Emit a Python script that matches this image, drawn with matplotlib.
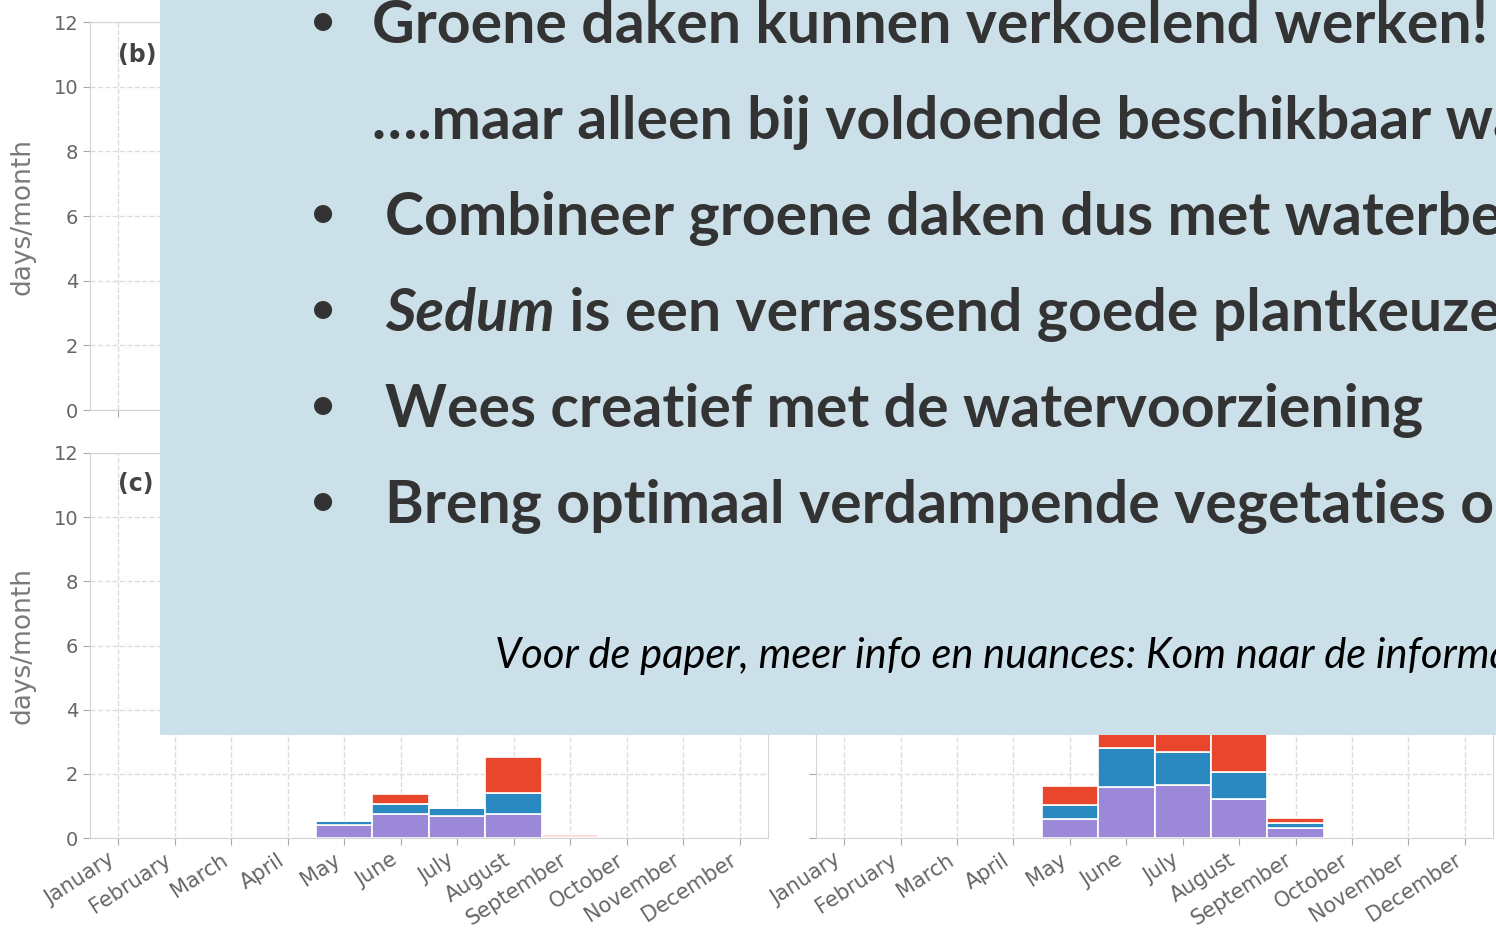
import matplotlib
matplotlib.use("Agg")
import matplotlib.pyplot as plt
from matplotlib.patches import Rectangle
import numpy as np

W, H = 1496, 930

months = ["January", "February", "March", "April", "May", "June", "July",
          "August", "September", "October", "November", "December"]

# panel (c): days/month per category, stacked bottom -> top
c_purple = [0, 0, 0, 0, 0.40, 0.75, 0.70, 0.75, 0.03, 0, 0, 0]
c_blue = [0, 0, 0, 0, 0.12, 0.30, 0.22, 0.65, 0, 0, 0, 0]
c_red = [0, 0, 0, 0, 0, 0.32, 0.05, 1.12, 0.05, 0, 0, 0]

# right-hand panel (tops of June-August hidden behind the text box)
d_purple = [0, 0, 0, 0, 0.59, 1.59, 1.65, 1.21, 0.30, 0, 0, 0]
d_blue = [0, 0, 0, 0, 0.44, 1.21, 1.03, 0.85, 0.17, 0, 0, 0]
d_red = [0, 0, 0, 0, 0.59, 1.80, 1.62, 1.65, 0.16, 0, 0, 0]

bullets = [
    "Groene daken kunnen verkoelend werken!",
    "Combineer groene daken dus met waterberging",
    "Wees creatief met de watervoorziening",
    "Breng optimaal verdampende vegetaties op daken aan",
]
sub_line = "….maar alleen bij voldoende beschikbaar water"
sedum_word = "Sedum"
sedum_rest = " is een verrassend goede plantkeuze"
note = "Voor de paper, meer info en nuances: Kom naar de informatiemarkt"

PURPLE = "#9c88d8"
BLUE = "#2a89c0"
RED = "#e8462d"
TXT = "#333333"
FONT = ["Lato", "DejaVu Sans"]


def px_box(x0, y0, x1, y1):
    return [x0 / W, 1 - y1 / H, (x1 - x0) / W, (y1 - y0) / H]


def style(ax, ylabels=True, xlabels=True):
    x = np.arange(1, 13)
    ax.set_xlim(0.5, 12.5)
    ax.set_ylim(0, 12)
    ax.set_xticks(x)
    ax.set_yticks(range(0, 13, 2))
    ax.grid(True, ls="--", color="#dcdcdc", lw=1)
    ax.set_axisbelow(True)
    for s in ax.spines.values():
        s.set_color("#d4d4d4")
    ax.tick_params(color="#aaaaaa", labelcolor="#666666", labelsize=14, length=5)
    ax.tick_params(axis="x", labelsize=15)
    if xlabels:
        ax.set_xticklabels(months, rotation=33, ha="right")
    else:
        ax.set_xticklabels([])
    if ylabels:
        ax.set_ylabel("days/month", fontsize=19, color="#7a7a7a")
        ax.yaxis.set_label_coords(-0.080, 0.5)
    else:
        ax.set_yticklabels([])


def stack(ax, layers, colors):
    x = np.arange(1, 13)
    bottom = np.zeros(12)
    for vals, col in zip(layers, colors):
        ax.bar(x, vals, width=1.0, bottom=bottom, color=col,
               edgecolor="white", linewidth=1.2)
        bottom += np.array(vals)


fig = plt.figure(figsize=(W / 100, H / 100), dpi=100)

ax_b = fig.add_axes(px_box(90, 22, 768, 410))
ax_b2 = fig.add_axes(px_box(816, 22, 1493, 410))
ax_c = fig.add_axes(px_box(90, 453, 768, 838))
ax_d = fig.add_axes(px_box(816, 453, 1493, 838))

style(ax_b, ylabels=True, xlabels=False)
style(ax_b2, ylabels=False, xlabels=False)
style(ax_c, ylabels=True, xlabels=True)
style(ax_d, ylabels=False, xlabels=True)

stack(ax_c, [c_purple, c_blue, c_red], [PURPLE, BLUE, RED])
stack(ax_d, [d_purple, d_blue, d_red], [PURPLE, BLUE, RED])

fig.text(118 / W, 1 - 55 / H, "(b)", fontsize=17, weight="bold",
         color="#444444", va="center")
fig.text(118 / W, 1 - 484 / H, "(c)", fontsize=17, weight="bold",
         color="#444444", va="center")

# slide text box laid over the figure
fig.add_artist(Rectangle((160 / W, 1 - 735 / H), 1.0, 1.0,
                         transform=fig.transFigure, facecolor="#cce0e9",
                         edgecolor="none", zorder=10))


def put(x, y, s, **kw):
    return fig.text(x / W, 1 - y / H, s, va="baseline", zorder=11,
                    family=FONT, **kw)


big = dict(fontsize=42.5, weight="bold", color=TXT)
dot = dict(fontsize=30, weight="bold", color=TXT, ha="center")
put(372, 43, bullets[0], **big)
put(372, 139, sub_line, **big)
put(385, 235, bullets[1], **big)
t = put(385, 331, sedum_word, style="italic", **big)
fig.canvas.draw()
bb = t.get_window_extent(renderer=fig.canvas.get_renderer())
put(bb.x1, 331, sedum_rest, **big)
put(385, 427, bullets[2], **big)
put(385, 523, bullets[3], **big)
for yb in [43, 235, 331, 427, 523]:
    put(323, yb - 8, "•", **dot)
put(495, 668, note, fontsize=30, style="italic", color="black")

fig.savefig("out.png", dpi=100)
